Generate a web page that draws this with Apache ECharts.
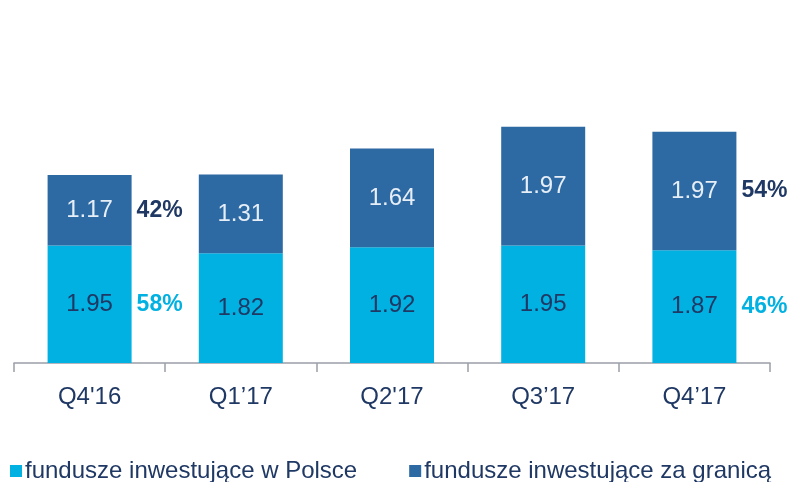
<!DOCTYPE html>
<html>
<head>
<meta charset="utf-8">
<script src="https://cdn.jsdelivr.net/npm/echarts@6/dist/echarts.min.js"></script>
<style>
  html, body { margin: 0; padding: 0; background: #fff; }
  #container { width: 794px; height: 482px; }
</style>
</head>
<body>
<div id="container"></div>
<script>
var categories = ['Q4\'16', 'Q1\u201917', 'Q2\'17', 'Q3\u201917', 'Q4\u201917'];
var polska = [1.95, 1.82, 1.92, 1.95, 1.87];
var granica = [1.17, 1.31, 1.64, 1.97, 1.97];
var pctPolska = ['58%', '', '', '', '46%'];
var pctGranica = ['42%', '', '', '', '54%'];

var navy = '#1f3864';
var light = '#00b1e1';
var dark = '#2d69a3';

var dom = document.getElementById('container');
var myChart = echarts.init(dom);
var option = {
    backgroundColor: '#fff',
    animation: false,
    textStyle: { fontFamily: 'Liberation Sans, Arial, sans-serif' },
    grid: { left: 14, right: 24, top: 110, bottom: 119 },
    legend: {
        data: ['fundusze inwestujące w Polsce', 'fundusze inwestujące za granicą'],
        left: 5,
        top: 454,
        icon: 'rect',
        itemWidth: 12,
        itemHeight: 12,
        itemGap: 52,
        textStyle: { fontSize: 24, color: navy, padding: [0, 0, 0, -2] }
    },
    xAxis: {
        type: 'category',
        data: categories,
        axisLine: { lineStyle: { color: '#9a9ea6', width: 1.5 } },
        axisTick: { show: true, length: 9, lineStyle: { color: '#9a9ea6', width: 1.5 } },
        axisLabel: { fontSize: 24, color: navy, margin: 22 }
    },
    yAxis: {
        type: 'value',
        min: 0,
        max: 4.2,
        show: false,
        splitLine: { show: false }
    },
    series: [
        {
            name: 'fundusze inwestujące w Polsce',
            type: 'bar',
            stack: 'a',
            barWidth: 84,
            data: polska,
            itemStyle: { color: light },
            label: {
                show: true, position: 'inside', fontSize: 24, color: navy,
                formatter: function (p) { return p.value.toFixed(2); }
            }
        },
        {
            name: 'fundusze inwestujące za granicą',
            type: 'bar',
            stack: 'a',
            barWidth: 84,
            data: granica,
            itemStyle: { color: dark },
            label: {
                show: true, position: 'inside', fontSize: 24, color: '#e6eef7',
                formatter: function (p) { return p.value.toFixed(2); }
            }
        },
        {
            name: 'pct1',
            type: 'bar',
            stack: 'b',
            barWidth: 84,
            barGap: '-100%',
            data: polska,
            itemStyle: { color: 'rgba(0,0,0,0)' },
            silent: true,
            label: {
                show: true, position: 'right', distance: 5, fontSize: 23, fontWeight: 'bold', color: light,
                formatter: function (p) { return pctPolska[p.dataIndex]; }
            }
        },
        {
            name: 'pct2',
            type: 'bar',
            stack: 'b',
            barWidth: 84,
            barGap: '-100%',
            data: granica,
            itemStyle: { color: 'rgba(0,0,0,0)' },
            silent: true,
            label: {
                show: true, position: 'right', distance: 5, fontSize: 23, fontWeight: 'bold', color: navy,
                formatter: function (p) { return pctGranica[p.dataIndex]; }
            }
        }
    ]
};
myChart.setOption(option, true);
</script>
</body>
</html>
